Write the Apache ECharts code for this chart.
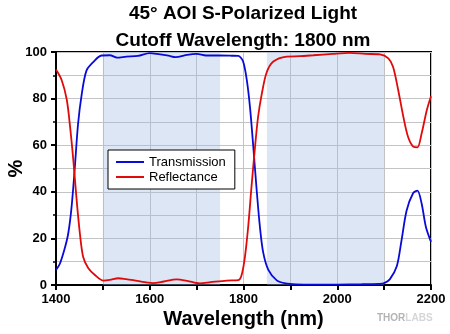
<!DOCTYPE html>
<html>
<head>
<meta charset="utf-8">
<script src="https://cdn.jsdelivr.net/npm/echarts@6/dist/echarts.min.js"></script>
<style>html,body{margin:0;padding:0;background:#fff;}#c{width:450px;height:334px;}</style>
</head>
<body>
<div id="c"></div>
<script>
var titleLines = ['45° AOI S-Polarized Light', 'Cutoff Wavelength: 1800 nm'];
var xAxisName = 'Wavelength (nm)';
var yAxisName = '%';
var seriesNames = ['Transmission', 'Reflectance'];
var shadedBands = [[1500, 1750], [1850, 2100]];

var transX = [1400,1408,1419,1426,1433,1440,1447,1455,1465,1480,1497,1515,1530,1550,1575,1600,1615,1640,1655,1680,1700,1720,1750,1775,1789,1799,1807,1814,1821,1828,1835,1842,1853,1871,1890,1913,1950,2000,2050,2090,2100,2112,2127,2137,2148,2162,2171,2180,2189,2200];
var transY = [6.5,9,16,22,33,50,69,82,92,95.8,98.5,98.6,97.6,98,98.3,99.5,99.2,98.4,97.8,98.8,99.2,98.5,98.5,98.4,98.3,96,88,76,59,41,25,14,6.5,2,0.7,0.3,0.2,0.2,0.3,0.5,0.8,2.4,8,19,32,39.5,40.5,35,25,18.5];

var reflX = [1400,1412,1423,1430,1437,1444,1451,1458,1469,1483,1501,1515,1533,1550,1565,1590,1607,1630,1657,1680,1707,1730,1764,1789,1796,1803,1810,1817,1824,1831,1839,1849,1863,1892,1920,1949,1990,2027,2060,2091,2109,2119,2130,2141,2151,2162,2171,2180,2191,2200];
var reflY = [92.5,88,79.5,68,53.5,36.5,22,12,7.2,4.3,1.9,2.2,2.9,2.5,2.1,1.2,0.8,1.5,2.4,1.8,0.7,1.2,1.9,2.1,4.3,12,25,42,58,72,82,91,95.8,98,98.2,98.6,99.2,99.6,99.2,99,97.3,93.7,83.7,72.2,63.6,59.4,59.1,65,75,81];

function pairs(xs, ys) { return xs.map(function (x, i) { return [x, ys[i]]; }); }

var chart = echarts.init(document.getElementById('c'), null, {renderer: 'canvas'});
var gridLine = {show: true, lineStyle: {color: '#c4c4c4', width: 1}};
chart.setOption({
  animation: false,
  backgroundColor: '#ffffff',
  title: {
    text: titleLines.join('\n'),
    left: 243, top: 0, padding: 0, textAlign: 'center',
    textStyle: {fontFamily: 'Liberation Sans, Arial', fontSize: 19, fontWeight: 'bold', color: '#000', lineHeight: 27}
  },
  legend: {
    orient: 'vertical', left: 108, top: 150,
    padding: [5, 9, 5, 8], itemGap: 1, itemWidth: 28, itemHeight: 2,
    icon: 'rect',
    borderColor: '#000', borderWidth: 1, backgroundColor: '#fff',
    textStyle: {fontFamily: 'Liberation Sans, Arial', fontSize: 13, color: '#000', lineHeight: 14},
    data: seriesNames
  },
  grid: {left: 56, top: 52, width: 375, height: 233, containLabel: false, outerBoundsMode: 'none',
    show: true, borderColor: '#000', borderWidth: 2, backgroundColor: 'transparent'},
  xAxis: {
    type: 'value', min: 1400, max: 2200, interval: 200,
    name: xAxisName, nameLocation: 'middle', nameGap: 24, nameMoveOverlap: false,
    nameTextStyle: {fontFamily: 'Liberation Sans, Arial', fontSize: 20, fontWeight: 'bold', color: '#000'},
    axisLine: {show: true, lineStyle: {color: '#000', width: 2}},
    axisTick: {show: true, inside: false, length: 5, lineStyle: {color: '#000', width: 2}},
    minorTick: {show: true, splitNumber: 2, length: 5, lineStyle: {color: '#000', width: 2}},
    axisLabel: {margin: 8, fontFamily: 'Liberation Sans, Arial', fontSize: 13, fontWeight: 'bold', color: '#000',
      formatter: function (v) { return String(v); }},
    splitLine: gridLine,
    minorSplitLine: gridLine
  },
  yAxis: {
    type: 'value', min: 0, max: 100, interval: 20,
    name: yAxisName, nameLocation: 'middle', nameGap: 40, nameRotate: 90, nameMoveOverlap: false,
    nameTextStyle: {fontFamily: 'Liberation Sans, Arial', fontSize: 20, fontWeight: 'bold', color: '#000',
      verticalAlign: 'middle'},
    axisLine: {show: true, lineStyle: {color: '#000', width: 2}},
    axisTick: {show: true, inside: false, length: 5, lineStyle: {color: '#000', width: 2}},
    minorTick: {show: true, splitNumber: 2, length: 3, lineStyle: {color: '#000', width: 1.5}},
    axisLabel: {margin: 9, fontFamily: 'Liberation Sans, Arial', fontSize: 13, fontWeight: 'bold', color: '#000',
      formatter: function (v) { return String(v); }},
    splitLine: gridLine,
    minorSplitLine: gridLine
  },
  series: [
    {
      name: seriesNames[0], type: 'line', data: pairs(transX, transY),
      showSymbol: false, symbol: 'none', smooth: 0.3,
      lineStyle: {color: '#0a0ad8', width: 1.8}, itemStyle: {color: '#0a0ad8'},
      markArea: {
        silent: true,
        itemStyle: {color: 'rgba(160,185,228,0.36)'},
        data: shadedBands.map(function (b) { return [{xAxis: b[0]}, {xAxis: b[1]}]; })
      },
      z: 3
    },
    {
      name: seriesNames[1], type: 'line', data: pairs(reflX, reflY),
      showSymbol: false, symbol: 'none', smooth: 0.3,
      lineStyle: {color: '#e00a0a', width: 1.8}, itemStyle: {color: '#e00a0a'},
      z: 3
    }
  ],
  graphic: [{
    type: 'text', left: 377, top: 313,
    style: {
      text: '{a|THOR}{b|LABS}',
      rich: {
        a: {fontFamily: 'Liberation Sans, Arial', fontSize: 10, fontWeight: 'bold', fill: '#b4b4b4'},
        b: {fontFamily: 'Liberation Sans, Arial', fontSize: 10, fontWeight: 'bold', fill: '#d6d6d6'}
      }
    }
  }]
});
</script>
</body>
</html>
